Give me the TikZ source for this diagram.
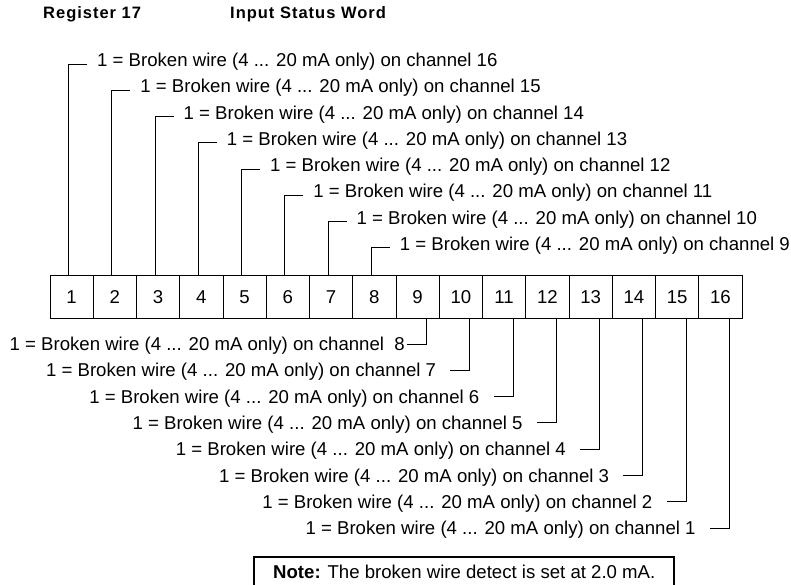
\documentclass[tikz,border=0pt]{standalone}
\usepackage{fontspec}
\setmainfont{Liberation Sans}
\newfontfamily\hdrfont[LetterSpace=6]{Liberation Sans}
\begin{document}
\begin{tikzpicture}[x=1pt,y=-1pt]
\tikzset{
  lbl/.style={inner sep=0pt, font=\fontsize{18.6}{22}\selectfont},
  hdr/.style={inner sep=0pt, anchor=base west, font=\fontsize{16.5}{20}\selectfont\hdrfont\bfseries},
  cell/.style={draw, line width=1pt, minimum width=43.25pt, minimum height=43pt, inner sep=0pt, text height=13.3pt, text depth=0pt, font=\fontsize{18.6}{22}\selectfont},
  lead/.style={line width=1pt},
  notebox/.style={draw, line width=2pt, minimum width=420pt, minimum height=50pt, inner sep=0pt, anchor=north west}
}
\useasboundingbox (0,0) rectangle (791,584);
\clip (0,0) rectangle (791,584);
\node[hdr] (reg) at (43,18.5) {Register 17};
\node[hdr] (isw) at (230,18.5) {Input Status Word};
\foreach \i in {1,...,16}
  \node[cell] (c\i) at ({50+43.25*(\i-0.5)},296.5) {\i};
% upper labels
\foreach \k in {0,...,7}{
  \pgfmathtruncatemacro\ch{16-\k}
  \pgfmathtruncatemacro\b{\k+1}
  \node[lbl, anchor=base west] (t\ch) at ({97+43.25*\k},{66.5+26.25*\k}) {1 = Broken wire (4 ... 20 mA only) on channel \ch};
  \draw[lead] ([xshift=19pt]c\b.north west) |- ([xshift=-10pt,yshift=2.5pt]t\ch.base west);
}
% lower labels
\node[lbl, anchor=base east] (t8) at (405,350.5) {1 = Broken wire (4 ... 20 mA only) on channel\ \ 8};
\draw[lead] ([xshift=31pt]c9.south west) |- ([xshift=2pt,yshift=6.5pt]t8.base east);
\foreach \k in {1,...,7}{
  \pgfmathtruncatemacro\ch{8-\k}
  \pgfmathtruncatemacro\b{9+\k}
  \node[lbl, anchor=base east] (t\ch) at ({427+43.25*\k-34},{344+26.3*\k+6.5}) {1 = Broken wire (4 ... 20 mA only) on channel \ch};
  \draw[lead] ([xshift=31pt]c\b.south west) |- ([xshift=14pt,yshift=6.5pt]t\ch.base east);
}
% note
\node[notebox] (nb) at (253,556) {};
\node[lbl, anchor=base west] (note) at (273,578.5) {{\bfseries Note:} The broken wire detect is set at 2.0 mA.};
\end{tikzpicture}
\end{document}
